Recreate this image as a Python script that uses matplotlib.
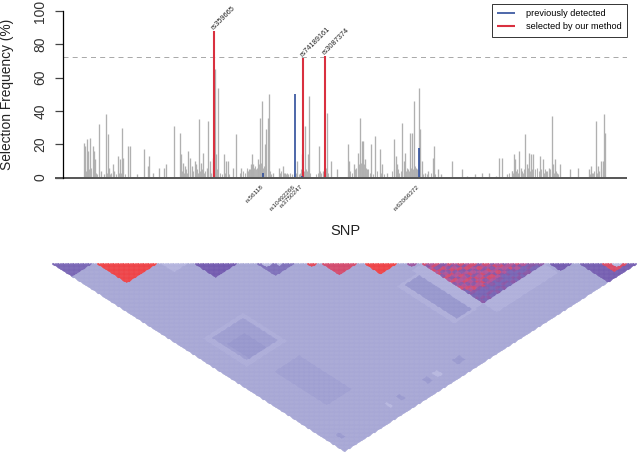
import numpy as np
import matplotlib
matplotlib.use('Agg')
import matplotlib.pyplot as plt
from matplotlib.colors import LinearSegmentedColormap

plt.rcParams['font.family'] = ['Liberation Sans', 'DejaVu Sans']

# SNP positions and selection frequency
gray_pos = [84.3, 85.3, 86.7, 87.7, 90.3, 92.7, 94, 95.3, 99.3, 101.3, 104, 106, 108.3, 109.3, 112.7, 114.3,
            118.3, 120, 122, 123.3, 128.3, 130, 136.7, 144.3, 147.7, 149, 152.7, 159.3, 164, 166.3, 174,
            180.3, 181.3, 183.3, 185, 188.3, 189.7, 191.7, 194.7, 195.7, 199, 201, 203.3, 206.7, 207.7, 209.7,
            212.7, 214.5, 216, 218.3, 224, 226, 227.7, 232.7, 235.7, 241, 246.7, 249, 251, 252.3, 253.3,
            258.3, 260.3, 262.3, 265, 266, 267.7, 269.3, 273.3, 278.7, 282.7, 285, 288.3, 297.3, 302, 305.3,
            308.3, 309.3, 319.3, 322.7, 327, 331.3, 336.7, 347.7, 349, 353.7, 357.7, 360.3, 362, 363, 365, 367.3,
            371, 375, 379.7, 382.3, 386.7, 393.7, 395.7, 397.3, 402, 403.7, 405.3, 410, 412.3, 414.3, 416,
            418.7, 420, 421.7, 425, 428.3, 432.7, 433.7, 438.3, 441, 452.3, 461.7, 466.7, 475.3, 482.3, 489,
            496, 499.3, 502.3, 507.3, 511.7, 514, 515.3, 519, 520.7, 525.3, 526.7, 529, 531, 533.3, 540.3,
            542.7, 546, 548.7, 551.7, 553.3, 555, 557.3, 560, 570.3, 578.3, 589.3, 591.3, 596, 598.3, 600.7,
            602.7, 604.3, 605.3]
gray_freq = [21, 19, 23, 16, 24, 19, 16, 11, 32, 4, 2, 38, 26, 6, 8, 4,
             13, 11, 30, 12, 19, 19, 2, 17, 7, 13, 3, 6, 6, 8, 31,
             27, 14, 9, 7, 16, 12, 7, 10, 8, 35, 9, 15, 6, 34, 10,
             12, 65, 14, 54, 14, 10, 10, 6, 26, 6, 4, 5, 8, 14, 8,
             11, 36, 46, 20, 29, 36, 50, 3, 6, 7, 3, 2, 10, 14, 31,
             14, 49, 19, 4, 39, 10, 5, 20, 10, 8, 15, 36, 22, 22, 11, 5,
             20, 25, 17, 8, 3, 23, 13, 8, 33, 10, 15, 27, 27, 46, 6,
             54, 29, 10, 3, 4, 12, 19, 5, 2, 10, 5, 1, 2, 3, 3,
             1, 12, 12, 2, 4, 14, 11, 16, 6, 26, 8, 15, 14, 14, 13,
             11, 4, 6, 37, 8, 11, 3, 8, 5, 6, 5, 7, 34, 7, 10,
             10, 38, 27]
# the low fuzz of small bars inside the clusters
short_pos = [85, 86, 88, 89, 91, 93, 96, 97, 107, 110, 111, 113, 116, 119, 121, 125, 182, 184, 186, 187, 190, 192,
             193, 196, 197, 198, 200, 202, 204, 205, 208, 210, 211, 213, 217, 220, 222, 225, 229, 240, 243, 245,
             247, 248, 250, 254, 255, 256, 257, 259, 261, 263, 264, 268, 270, 271, 280, 281, 284, 286, 287, 290,
             292, 294, 296, 299, 300, 301, 304, 306, 307, 310, 316, 318, 320, 321, 324, 326, 328, 350, 352, 355,
             356, 358, 359, 361, 364, 366, 368, 370, 373, 377, 381, 384, 392, 394, 396, 398, 399, 401, 404, 406,
             407, 408, 409, 411, 413, 415, 417, 422, 423, 427, 431, 435, 509, 512, 513, 516, 517, 518, 522, 523,
             524, 527, 528, 530, 532, 535, 537, 539, 541, 544, 545, 547, 549, 550, 552, 554, 556, 558, 590, 592,
             593, 594, 597, 599, 601, 603]
short_freq = [5, 4, 3, 5, 6, 4, 3, 2, 3, 2, 3, 2, 2, 3, 3, 2, 4, 3, 5, 3, 4, 3,
              4, 3, 5, 3, 4, 5, 3, 4, 5, 4, 3, 6, 5, 3, 2, 3, 2, 3, 4, 3,
              6, 4, 5, 6, 7, 5, 6, 8, 9, 6, 7, 5, 4, 2, 3, 4, 3, 2, 3, 3,
              2, 2, 3, 2, 3, 5, 4, 5, 4, 3, 2, 3, 4, 3, 5, 6, 3, 4, 3, 5,
              6, 7, 8, 9, 8, 6, 5, 3, 2, 4, 3, 2, 4, 5, 4, 5, 3, 4, 5, 4,
              6, 5, 4, 6, 5, 7, 5, 3, 2, 2, 3, 2, 3, 4, 3, 4, 5, 3, 4, 3,
              5, 4, 6, 4, 5, 5, 6, 4, 5, 3, 5, 4, 3, 5, 4, 3, 4, 2, 2, 3,
              3, 4, 3, 4, 5, 6]
blue_pos = [263, 295, 302, 419]
blue_freq = [3, 50, 1, 18]
red_pos = [214, 302.8, 325]
red_freq = [88, 72, 73]
threshold = 72.2

top_labels = ['rs359665', 'rs74189161', 'rs3087374']
low_labels = ['rs56118', 'rs10492266', 'rs3750247', 'rs62066372']

# LD blocks: ranges of the two SNP sets (same scale as the picture's x), and the level
blk_i1 = [85, 95, 100, 105, 360, 370, 400, 420, 300, 262, 242, 165, 188, 68, 52, 96, 160, 193, 255, 305, 322, 364, 405, 548, 578, 600, 262, 275, 610]
blk_i2 = [165, 158, 135, 155, 405, 400, 420, 543, 315, 272, 252, 172, 196, 76, 90, 155, 185, 237, 293, 316, 355, 396, 415, 572, 637, 625, 270, 282, 622]
blk_j1 = [318, 325, 350, 440, 430, 437, 420, 543, 600, 600, 600, 600, 600, 600, 52, 96, 160, 193, 255, 305, 322, 364, 405, 548, 578, 600, 262, 275, 610]
blk_j2 = [405, 397, 397, 545, 545, 541, 543, 570, 614, 614, 614, 614, 614, 614, 90, 155, 185, 237, 293, 316, 355, 396, 415, 572, 637, 625, 270, 282, 622]
blk_lev = [0.17, 0.27, 0.31, 0.26, 0.16, 0.31, 0.15, 0.15, 0.30, 0.10, 0.30, 0.10, 0.30, 0.30, 0.55, 1.0, 0.12, 0.60, 0.50, 0.95, 0.90, 1.0, 0.72, 0.60, 0.58, 0.92, 0.10, 0.12, 0.10]

# the mixed block near the right end, coarse grid, row by row from its diagonal
mix_start = 420
mix_cell = 6.15
mix_rows = ["86787868786786565656", "7868678687678765565", "868768767867865556", "67686787876765565",
            "8678676868786565", "768678687865556", "86867678676565", "7876786875556", "868676876565",
            "67687676565", "8767865556", "687676565", "78765556", "6786565", "767556", "86556", "7565",
            "665", "65", "6"]

fig = plt.figure(figsize=(6.4, 4.53), dpi=100)

# triangle part
ax2 = fig.add_axes([0, 0, 1, 1])
ax2.set_xlim(0, 640)
ax2.set_ylim(453, 0)
ax2.axis('off')
step = 2.5
edges = np.arange(52, 637.5, step)
n = len(edges) - 1
ld = np.full((n, n), 0.21)
for a, b, c, d, v in zip(blk_i1, blk_i2, blk_j1, blk_j2, blk_lev):
    ii = np.where((edges[:-1] >= a) & (edges[:-1] < b))[0]
    jj = np.where((edges[:-1] >= c) & (edges[:-1] < d))[0]
    ld[np.ix_(ii, jj)] = v
for r, row in enumerate(mix_rows):
    for k, ch in enumerate(row):
        a = mix_start + r * mix_cell
        c = mix_start + (r + k) * mix_cell
        ii = np.where((edges[:-1] >= a) & (edges[:-1] < a + mix_cell))[0]
        jj = np.where((edges[:-1] >= c) & (edges[:-1] < c + mix_cell))[0]
        ld[np.ix_(ii, jj)] = int(ch) / 9
ld = np.ma.array(ld, mask=np.tril(np.ones((n, n), dtype=bool), -1))
I, J = np.meshgrid(edges, edges, indexing='ij')
X = (I + J) / 2
Y = 264 + (J - I) * 0.321
cmap = LinearSegmentedColormap.from_list('ld', [(0, '#E8E0EE'), (0.1, '#B0B0DE'), (0.2, '#A0A0D4'), (0.36, '#8585C6'),
                                                (0.6, '#6448A8'), (0.8, '#B0408A'), (1, '#EE2E33')])
ax2.pcolormesh(X, Y, ld, cmap=cmap, vmin=0, vmax=1, antialiased=True, edgecolors='face', linewidth=0.1)

# bars
ax = fig.add_axes([63 / 640, 1 - 177.5 / 453, 564 / 640, 166.5 / 453])
ax.patch.set_alpha(0)
ax.set_xlim(63, 627)
ax.set_ylim(0, 100)
ax.vlines(short_pos, 0, short_freq, color='#B4B4B4', lw=0.8)
ax.vlines(gray_pos, 0, gray_freq, color='#B0B0B0', lw=0.95)
ax.axhline(threshold, color='#9A9A9A', lw=0.6, ls=(0, (6, 5)))
ax.vlines(red_pos, 0, red_freq, color='#D9303F', lw=1.5, label='selected by our method')
ax.vlines(blue_pos, 0, blue_freq, color='#2F4E9B', lw=1.2, label='previously detected')
ax.plot([55, 627], [0, 0], color='#555555', lw=1.4, clip_on=False, solid_capstyle='butt')

for s in ['top', 'right', 'bottom']:
    ax.spines[s].set_visible(False)
ax.spines['left'].set_linewidth(0.9)
ax.spines['left'].set_bounds(0, 100)
ax.set_xticks([])
ax.set_yticks([0, 20, 40, 60, 80, 100])
ax.tick_params(axis='y', length=5.8, width=0.9, color='#444444', labelsize=10, labelcolor='#333333', pad=5.5)
for t in ax.get_yticklabels():
    t.set_rotation(90)
    t.set_va('center')

fig.text(7.5 / 640, 1 - 94 / 453, 'Selection Frequency (%)', rotation=90, fontsize=9.9, color='#222222',
         ha='center', va='center')
fig.text(345 / 640, 1 - 231 / 453, 'SNP', fontsize=10.5, color='#222222', ha='center', va='center')

for p, f, s in zip(red_pos, red_freq, top_labels):
    ax.annotate(s, (p, f), xytext=(0.8, -0.5), textcoords='offset points', rotation=45, fontsize=5.3,
                ha='left', va='bottom', rotation_mode='anchor', color='#222222')
for p, s in zip(blue_pos, low_labels):
    ax.annotate(s, (p, 0), xytext=(-1.5, -4.5), textcoords='offset points', rotation=45, fontsize=4.6,
                ha='right', va='top', rotation_mode='anchor', color='#222222')

h, l = ax.get_legend_handles_labels()
leg = ax.legend(h[::-1], l[::-1], loc='upper right', bbox_to_anchor=(1, 1 + 7 / 166.5), borderaxespad=0,
                fontsize=6.6, frameon=True, fancybox=False, framealpha=1, edgecolor='#333333',
                handlelength=1.96, handletextpad=1.15, borderpad=0.6, labelspacing=0.4)
leg.get_frame().set_linewidth(0.7)

plt.savefig('out.png', dpi=100)
